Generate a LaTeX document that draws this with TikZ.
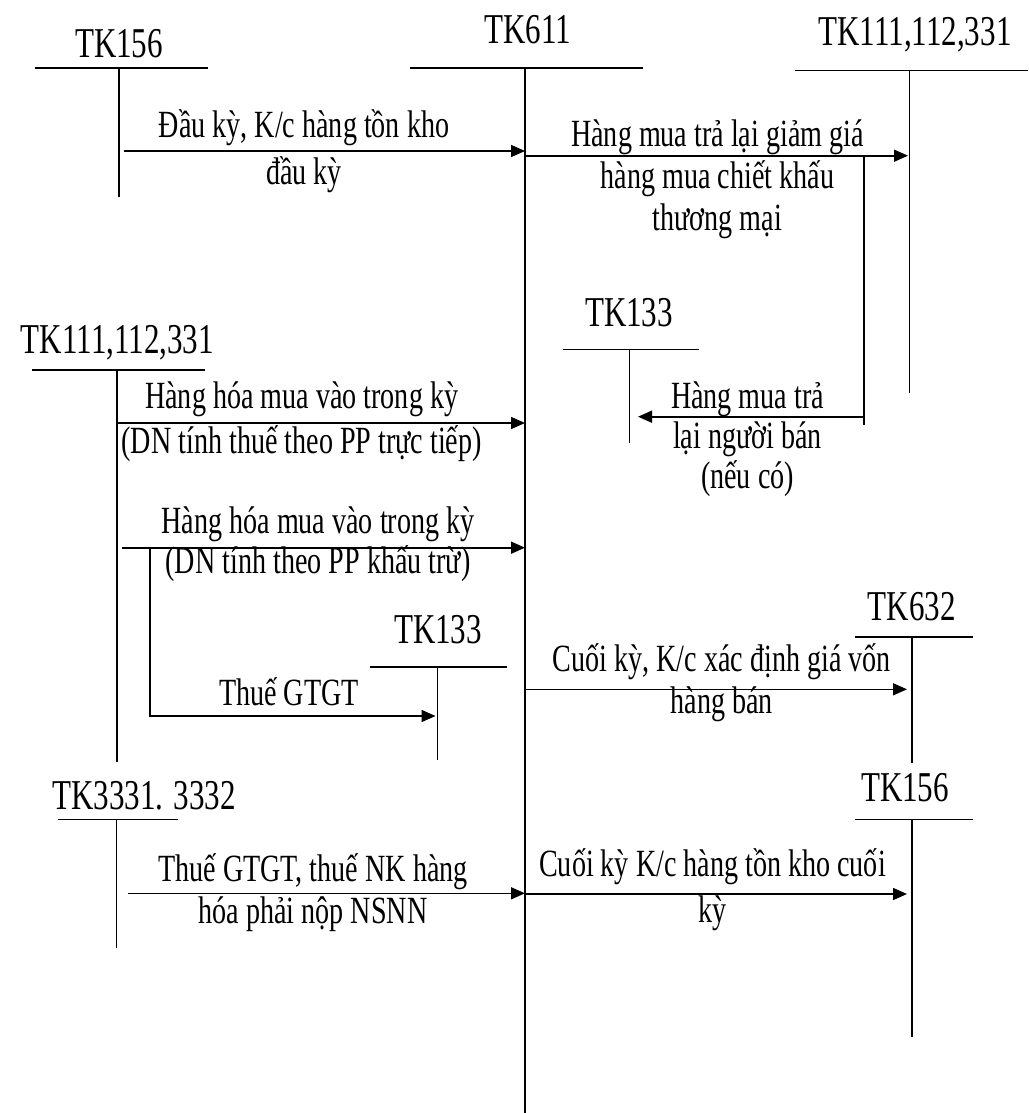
\documentclass[tikz,border=0pt]{standalone}
\usepackage{fontspec}
\setmainfont{Liberation Serif}[FakeStretch=0.73]
\usetikzlibrary{arrows.meta}
% centred block of lines whose reference point is the first baseline
\newcommand\notetext[1]{\begin{tabular}[t]{@{}c@{}}#1\end{tabular}}
\begin{document}
\begin{tikzpicture}[x=1pt,y=-1pt,
  acct/.style={anchor=base, inner sep=0pt, font=\fontsize{42.5}{46}\selectfont},
  note/.style={anchor=base, inner sep=0pt, font=\fontsize{38.5}{42}\selectfont},
  tline/.style={line width=1.6pt},
  flow/.style={line width=1.6pt, -{Triangle[length=14pt,width=12pt]}},
]
\useasboundingbox (0,0) rectangle (1028,1113);

% ---------- T-accounts ----------
% TK156 (opening stock)
\node[acct] (l156a) at (119,58) {TK156};
\coordinate (h156a1) at (35,68.3);   \coordinate (h156a2) at (208,68.3);
\coordinate (v156a1) at (119,68.3);  \coordinate (v156a2) at (119,197);
% TK611
\node[acct] (l611) at (527.5,43.3) {TK611};
\coordinate (h611a) at (410,68.3);   \coordinate (h611b) at (643,68.3);
\coordinate (v611a) at (525,68.3);   \coordinate (v611b) at (525,1113);
% TK111,112,331 (right)
\node[acct] (l111r) at (915,46) {TK111,112,331};
\coordinate (h111r1) at (795,70.7);  \coordinate (h111r2) at (1028,70.7);
\coordinate (v111r1) at (909.3,70.7);\coordinate (v111r2) at (909.3,393);
% TK133 (upper)
\node[acct] (l133u) at (629,326.7) {TK133};
\coordinate (h133u1) at (563,349.3); \coordinate (h133u2) at (699,349.3);
\coordinate (v133u1) at (629.3,349.3);\coordinate (v133u2) at (629.3,443);
% TK111,112,331 (left)
\node[acct] (l111l) at (117.5,353) {TK111,112,331};
\coordinate (h111l1) at (32,370);    \coordinate (h111l2) at (205,370);
\coordinate (v111l1) at (116.7,370); \coordinate (v111l2) at (116.7,762);
% TK133 (lower)
\node[acct] (l133d) at (438,643) {TK133};
\coordinate (h133d1) at (370,666.7); \coordinate (h133d2) at (507,666.7);
\coordinate (v133d1) at (437.3,666.7);\coordinate (v133d2) at (437.3,760);
% TK3331, 3332
\node[acct] (l3331) at (144,809) {TK3331. 3332};
\coordinate (h3331a) at (58,819.3);  \coordinate (h3331b) at (178,819.3);
\coordinate (v3331a) at (116.3,819.3);\coordinate (v3331b) at (116.3,948);
% TK632
\node[acct] (l632) at (911.7,620) {TK632};
\coordinate (h632a) at (855,636.7);  \coordinate (h632b) at (972.7,636.7);
\coordinate (v632a) at (911.7,636.7);\coordinate (v632b) at (911.7,763);
% TK156 (closing stock)
\node[acct] (l156b) at (905,801.7) {TK156};
\coordinate (h156b1) at (855,819.3); \coordinate (h156b2) at (972.7,819.3);
\coordinate (v156b1) at (911.7,819.3);\coordinate (v156b2) at (911.7,1037);

\foreach \a/\b in {h156a1/h156a2,v156a1/v156a2,h611a/h611b,v611a/v611b,
  h111r1/h111r2,v111r1/v111r2,h133u1/h133u2,v133u1/v133u2,
  h111l1/h111l2,v111l1/v111l2,h133d1/h133d2,v133d1/v133d2,
  h3331a/h3331b,v3331a/v3331b,h632a/h632b,v632a/v632b,
  h156b1/h156b2,v156b1/v156b2}
  \draw[tline] (\a) -- (\b);

% ---------- entries ----------
\coordinate (f1) at (124,151);
\draw[flow] (f1) -- (f1 -| v611a);
\node[note] (n1) at (304,138) {\notetext{Đầu kỳ, K/c hàng tồn kho\\[5pt] đầu kỳ}};

\coordinate (f2) at (525,155.7);  \coordinate (f2e) at (908,155.7);
\draw[flow] (f2) -- (f2e);
\node[note] (n2) at (717.5,146.7) {\notetext{Hàng mua trả lại giảm giá\\ hàng mua chiết khấu\\ thương mại}};

\coordinate (r1) at (864,155.7);  \coordinate (r2) at (864,425);
\draw[tline] (r1) -- (r2);
\coordinate (r3) at (864,416.7);  \coordinate (r4) at (638,416.7);
\draw[flow] (r3) -- (r4);
\node[note] (n3) at (747.5,408) {\notetext{Hàng mua trả\\[-2pt] lại người bán\\[-2pt] (nếu có)}};

\coordinate (f4) at (116.7,423);
\draw[flow] (f4) -- (f4 -| v611a);
\node[note] (n4) at (301.7,408) {\notetext{Hàng hóa mua vào trong kỳ\\[3pt] (DN tính thuế theo PP trực tiếp)}};

\coordinate (f5) at (122,547.7);
\draw[flow] (f5) -- (f5 -| v611a);
\node[note] (n5) at (318,533) {\notetext{Hàng hóa mua vào trong kỳ\\[-2pt] (DN tính theo PP khấu trừ)}};

\coordinate (b1) at (150,547.7);  \coordinate (b2) at (435.5,716);
\draw[flow] (b1) |- (b2);
\node[note] (n6) at (289,705) {Thuế GTGT};

\coordinate (f7) at (128,893.3);
\draw[flow] (f7) -- (f7 -| v611a);
\node[note] (n7) at (313,881.7) {\notetext{Thuế GTGT, thuế NK hàng\\ hóa phải nộp NSNN}};

\coordinate (f8) at (525,689.3);  \coordinate (f8e) at (907,689.3);
\draw[flow] (f8) -- (f8e);
\node[note] (n8) at (721.7,671.7) {\notetext{Cuối kỳ, K/c xác định giá vốn\\ hàng bán}};

\coordinate (f9) at (525,894);    \coordinate (f9e) at (907,894);
\draw[flow] (f9) -- (f9e);
\node[note] (n9) at (712.5,876.7) {\notetext{Cuối kỳ K/c hàng tồn kho cuối\\[4pt] kỳ}};
\end{tikzpicture}
\end{document}
